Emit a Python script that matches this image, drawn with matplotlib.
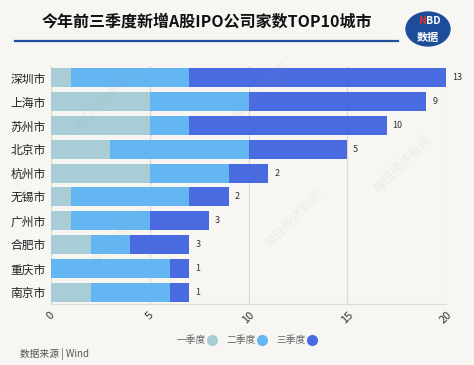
import matplotlib.pyplot as plt
from matplotlib.patches import Circle
from matplotlib.lines import Line2D

plt.rcParams['font.family'] = ['Noto Sans CJK SC', 'DejaVu Sans']

staedte = ["深圳市", "上海市", "苏州市", "北京市", "杭州市", "无锡市", "广州市", "合肥市", "重庆市", "南京市"]
q1 = [1, 5, 5, 3, 5, 1, 1, 2, 0, 2]
q2 = [6, 5, 2, 7, 4, 6, 4, 2, 6, 4]
q3 = [13, 9, 10, 5, 2, 2, 3, 3, 1, 1]
quartale = ["一季度", "二季度", "三季度"]
farben = ["#a8cdd7", "#63b6f2", "#4a6be0"]

hintergrund = "#f8f6f3"
fig = plt.figure(figsize=(4.74, 3.65), dpi=100, facecolor=hintergrund)
ax = fig.add_axes([0.1076, 0.167, 0.8334, 0.652])
ax.set_facecolor(hintergrund)

y = list(range(len(staedte)))
links2 = q1
links3 = [a + b for a, b in zip(q1, q2)]
ax.barh(y, q1, height=0.8, color=farben[0], zorder=3)
ax.barh(y, q2, left=links2, height=0.8, color=farben[1], zorder=3)
ax.barh(y, q3, left=links3, height=0.8, color=farben[2], zorder=3)
for i, (l, w) in enumerate(zip(links3, q3)):
    ax.text(l + w + 0.3, i, str(w), va="center", ha="left", fontsize=6.5, color="#333333")

ax.set_ylim(len(staedte) - 0.5, -0.5)
ax.set_xlim(0, 20)
ax.set_yticks(y)
ax.set_yticklabels(staedte, fontsize=8.5, color="#222222")
ax.set_xticks([0, 5, 10, 15, 20])
ax.set_xticklabels(["0", "5", "10", "15", "20"], rotation=45, fontsize=8, color="#333333")
ax.tick_params(length=0, pad=4)
ax.grid(axis="x", color="#dcdad6", linewidth=0.9, zorder=0)
for s in ["top", "right"]:
    ax.spines[s].set_visible(False)
ax.spines["left"].set_color("#dcdad6")
ax.spines["bottom"].set_color("#dcdad6")

# Wasserzeichen, sehr blass
for wx, wy in [(0.22, 0.72), (0.55, 0.75), (0.85, 0.55), (0.25, 0.35), (0.62, 0.4)]:
    fig.text(wx, wy, "每日经济新闻", rotation=45, fontsize=9, color="#9a9a9a", alpha=0.12,
             ha="center", va="center", zorder=0)

fig.text(0.437, 0.94, "今年前三季度新增A股IPO公司家数TOP10城市", fontsize=11.5,
         fontweight="bold", ha="center", va="center", color="#111111")
fig.add_artist(Line2D([0.032, 0.84], [0.888, 0.888], color="#1f4f9f", linewidth=1.6))

logo = Circle((428 / 474, 1 - 29 / 365), 22 / 474, transform=fig.transFigure,
              color="#1d4c9a", zorder=5)
fig.add_artist(logo)
fig.text(0.893, 0.942, "N", fontsize=7.5, fontweight="bold", color="#e03030", ha="center", va="center", zorder=6)
fig.text(0.914, 0.942, "BD", fontsize=7.5, fontweight="bold", color="white", ha="center", va="center", zorder=6)
fig.text(0.903, 0.896, "数据", fontsize=8, fontweight="bold", color="white", ha="center", va="center", zorder=6)

griffe = [Line2D([0], [0], marker="o", linestyle="", markersize=7, color=f) for f in farben]
fig.legend(griffe, quartale, loc="center", bbox_to_anchor=(0.52, 0.068), ncol=3, frameon=False,
           markerfirst=False, fontsize=7, handlelength=0.9, handletextpad=0.25,
           columnspacing=1.0, labelcolor="#666666")
fig.text(0.042, 0.03, "数据来源 | Wind", fontsize=7, color="#555555", ha="left", va="center")

fig.savefig("out.png", dpi=100, facecolor=hintergrund)
